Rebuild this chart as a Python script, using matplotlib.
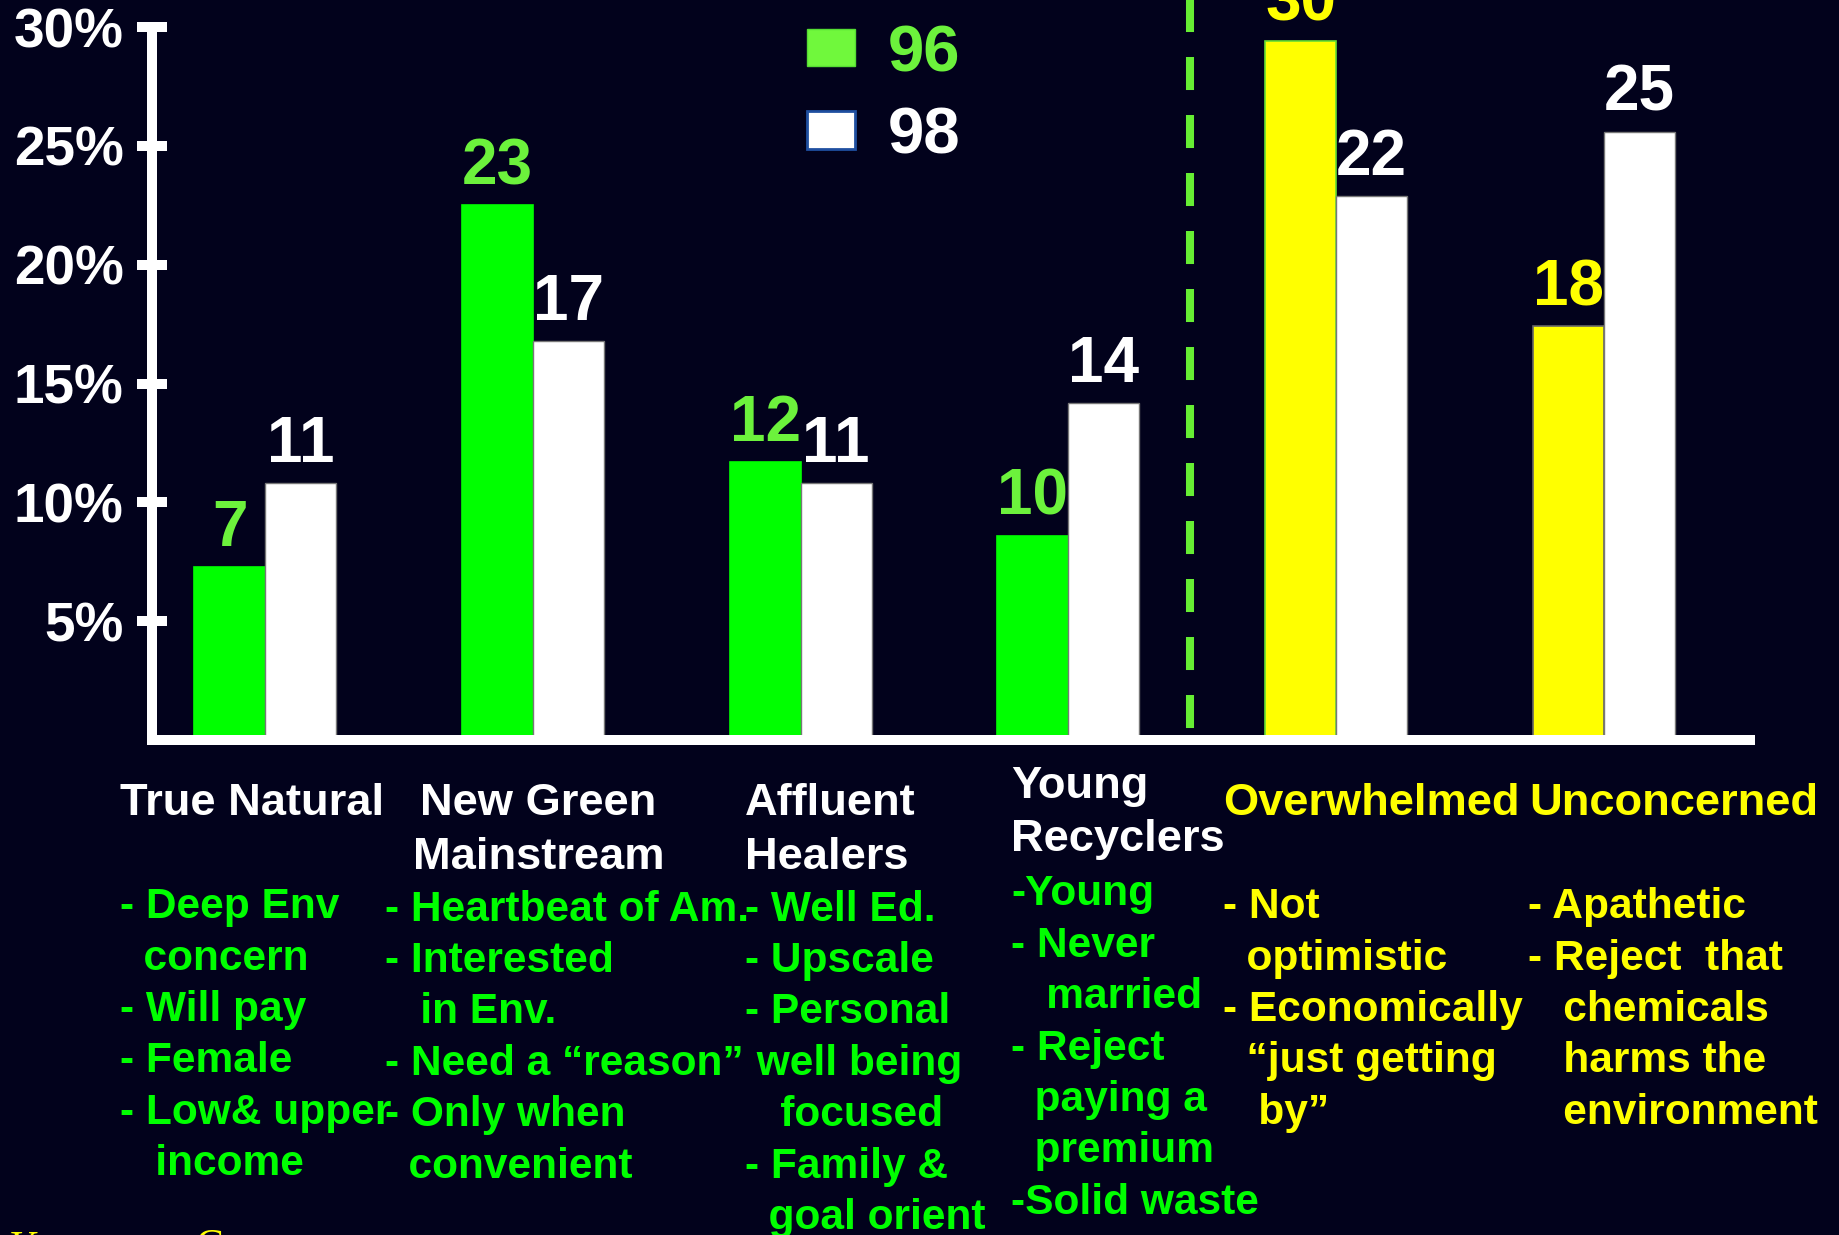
import matplotlib
matplotlib.use('Agg')
import matplotlib.pyplot as plt
from matplotlib.patches import Patch

# ---------------- data ----------------
categories = ['True Natural', 'New Green\nMainstream', 'Affluent\nHealers',
              'Young\nRecyclers', 'Overwhelmed', 'Unconcerned']
values_96 = [7.3, 22.5, 11.7, 8.6, 29.4, 17.4]
values_98 = [10.8, 16.8, 10.8, 14.2, 22.9, 25.6]
labels_96 = ['7', '23', '12', '10', '30', '18']
labels_98 = ['11', '17', '11', '14', '22', '25']
series_names = ['96', '98']
yticks = [5, 10, 15, 20, 25, 30]
ytick_labels = ['5%', '10%', '15%', '20%', '25%', '30%']
descriptions = [
    ['- Deep Env', '  concern', '- Will pay', '- Female', '- Low& upper', '   income'],
    ['- Heartbeat of Am.', '- Interested', '   in Env.', '- Need a \u201creason\u201d',
     '- Only when', '  convenient'],
    ['- Well Ed.', '- Upscale', '- Personal', ' well being', '   focused',
     '- Family &', '  goal orient'],
    ['-Young', '- Never', '   married', '- Reject', '  paying a', '  premium', '-Solid waste'],
    ['- Not', '  optimistic', '- Economically', '  \u201cjust getting', '   by\u201d'],
    ['- Apathetic', '- Reject  that', '   chemicals', '   harms the', '   environment'],
]

# ---------------- style ----------------
W, H = 1839, 1235
S = W / 1568.0  # displayed -> full scale
BG = '#02021c'
GREEN = '#00ff00'
LGREEN = '#6cf23c'
YELLOW = '#ffff00'
FONT = 'Liberation Sans'

fig = plt.figure(figsize=(W / 100, H / 100), dpi=100, facecolor=BG)

x0_px, x1_px = 152, 1750
ytop_px, ybot_px = 27, 740
ax = fig.add_axes([x0_px / W, 1 - ybot_px / H, (x1_px - x0_px) / W, (ybot_px - ytop_px) / H])
ax.set_facecolor(BG)

c0, step = 265.2, 267.7
ax.set_xlim((x0_px - c0) / step, (x1_px - c0) / step)
ax.set_ylim(0, 30)
bw = 71 / step

xs = list(range(len(categories)))
col96 = [GREEN] * 4 + [YELLOW] * 2
edge96 = [GREEN] * 4 + ['#66dd33', '#666666']
lab96_col = [LGREEN] * 4 + [YELLOW] * 2

b1 = ax.bar([x - bw / 2 for x in xs], values_96, width=bw, color=col96,
            edgecolor=edge96, linewidth=1.2, zorder=2)
b2 = ax.bar([x + bw / 2 for x in xs], values_98, width=bw, color='white',
            edgecolor='#777777', linewidth=1.0, zorder=2)

for rect, lab, c in zip(b1, labels_96, lab96_col):
    ax.annotate(lab, (rect.get_x() + rect.get_width() / 2, rect.get_height()),
                xytext=(0, 15), textcoords='offset points', ha='center', va='baseline',
                color=c, fontsize=46, fontweight='bold', family=FONT, annotation_clip=False)
for rect, lab in zip(b2, labels_98):
    ax.annotate(lab, (rect.get_x() + rect.get_width() / 2, rect.get_height()),
                xytext=(0, 15), textcoords='offset points', ha='center', va='baseline',
                color='white', fontsize=46, fontweight='bold', family=FONT, annotation_clip=False)

# dashed separator
ppu = (ybot_px - ytop_px) / 30
xd = (1190 - c0) / step
ln, = ax.plot([xd, xd], [(ybot_px + 12) / ppu, 0],
              color='#66ee33', lw=5.8, clip_on=False, zorder=1)
ln.set_dashes((4.1, 3.1))

# spines / ticks
for s in ['top', 'right']:
    ax.spines[s].set_visible(False)
for s in ['left', 'bottom']:
    ax.spines[s].set_color('white')
    ax.spines[s].set_linewidth(7.2)
    ax.spines[s].set_zorder(3)
ax.set_xticks([])
ax.set_yticks(yticks)
ax.set_yticklabels(ytick_labels, fontsize=39.5, fontweight='bold', family=FONT, color='white',
                   va='center_baseline')
ax.tick_params(axis='y', direction='inout', length=21, width=7.2, colors='white', pad=10)

# legend
handles = [Patch(facecolor='#70f83c', edgecolor='#55dd33', linewidth=1),
           Patch(facecolor='white', edgecolor='#1f4fa0', linewidth=2)]
leg = ax.legend(handles, series_names, loc='upper left',
                bbox_to_anchor=(807 / W, 1 - 24 / H), bbox_transform=fig.transFigure,
                frameon=False, prop=dict(family=FONT, weight='bold', size=47),
                handlelength=0.74, handleheight=0.5, handletextpad=0.5,
                labelspacing=0.34, borderpad=0, borderaxespad=0)
for t, c in zip(leg.get_texts(), [LGREEN, 'white']):
    t.set_color(c)

# category titles and descriptions (positions in displayed px)
title_pos = [(102, 695, 'left'), (459, 695, 'center'), (635, 695, 'left'),
             (862, 680, 'left'), (1043, 695, 'left'), (1304, 695, 'left')]
title_col = ['white'] * 4 + [YELLOW] * 2
desc_x = [102, 328, 635, 862, 1043, 1303]
desc_y0 = [783, 785, 785, 772, 783, 783]
desc_col = [GREEN] * 4 + [YELLOW] * 2
line_step = 43.8
title_step = 46

for i, cat in enumerate(categories):
    tx, ty, ha = title_pos[i]
    for j, line in enumerate(cat.split('\n')):
        fig.text(tx * S / W, 1 - (ty + j * title_step) * S / H, line, ha=ha, va='baseline',
                 color=title_col[i], fontsize=32.6, fontweight='bold', family=FONT)
    for j, line in enumerate(descriptions[i]):
        fig.text(desc_x[i] * S / W, 1 - (desc_y0[i] + j * line_step) * S / H, line,
                 ha='left', va='baseline', color=desc_col[i], fontsize=30.6,
                 fontweight='bold', family=FONT)

# cut-off footer text at bottom-left
fig.text(10 / W, 1 - 1231 / H, 'K', ha='left', va='top', color=YELLOW,
         fontsize=30, family='Liberation Serif')
fig.text(195 / W, 1 - 1229 / H, 'C', ha='left', va='top', color=YELLOW,
         fontsize=30, family='Liberation Serif')

fig.savefig('out.png', dpi=100, facecolor=BG)
